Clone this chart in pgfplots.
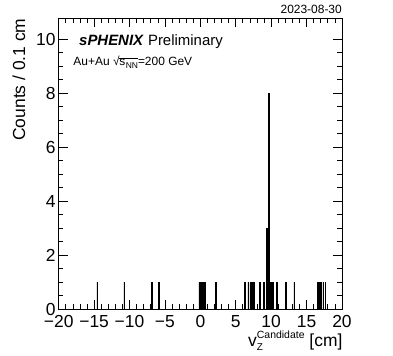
\documentclass[border=0pt]{standalone}
\usepackage{fontspec}
\setmainfont{Liberation Sans}
\usepackage{pgfplots}
\pgfplotsset{compat=1.18}
\begin{document}
\begin{tikzpicture}
\useasboundingbox (-58.7bp,-47bp) rectangle (334.3bp,309bp);
\begin{axis}[
  scale only axis, width=283.3bp, height=290.7bp,
  xmin=-20, xmax=20, ymin=0, ymax=10.77,
  axis line style={line width=0.9bp},
  xtick={-20,-15,...,20},
  xticklabels={−20,−15,−10,−5,0,5,10,15,20},
  ytick={0,2,...,10},
  minor x tick num=4, minor y tick num=3,
  tick align=inside,
  major tick length=9bp, minor tick length=4.5bp,
  tick style={line width=0.7bp, black},
  ticklabel style={font=\fontsize{17.5}{20}\selectfont},
  xticklabel style={anchor=north, inner sep=0pt, yshift=-6bp},
  yticklabel style={anchor=east, inner sep=0pt, xshift=-3bp},
  /pgf/number format/assume math mode=true,
]
\addplot[ybar, bar width=0.1, fill=black, draw=black, line width=0.5bp] coordinates {
(-14.55,1) (-10.75,1) (-6.85,1) (-5.85,1)
(-0.15,1) (0.05,1) (0.35,1) (0.65,1) (2.15,1)
(6.25,1) (6.75,1) (7.05,1) (7.25,1) (7.55,1) (8.35,1) (8.95,1)
(9.35,3) (9.45,1) (9.65,8) (9.85,1) (10.05,1) (10.25,1) (10.75,1)
(12.05,1) (13.25,1)
(16.55,1) (16.75,1) (16.95,1) (17.35,1) (17.65,1)
};
\end{axis}
\node[anchor=base west, inner sep=0pt, font=\fontsize{15}{18}\selectfont] at (20.3bp,263.7bp) {\textbf{\textit{sPHENIX}} Preliminary};
\node[anchor=base west, inner sep=0pt, font=\fontsize{12}{14}\selectfont] at (14.6bp,243.3bp) {Au+Au √\kern-0.3pt$\overline{\mbox{s\kern0.5pt\raisebox{-2.5bp}{\fontsize{8.5}{10}\selectfont NN}}}$=200 GeV};
\node[anchor=base east, inner sep=0pt, font=\fontsize{12}{14}\selectfont] at (283.3bp,295.7bp) {2023-08-30};
\node[anchor=base east, inner sep=0pt, rotate=90, font=\fontsize{17.5}{20}\selectfont] at (-33.7bp,290.7bp) {Counts / 0.1 cm};
\node[anchor=base west, inner sep=0pt, font=\fontsize{17.5}{20}\selectfont] at (189.3bp,-37bp) {v\rlap{\raisebox{-4.7bp}{\fontsize{10}{12}\selectfont Z}}\raisebox{8bp}{\fontsize{10.5}{12}\selectfont Candidate} [cm]};
\end{tikzpicture}
\end{document}
